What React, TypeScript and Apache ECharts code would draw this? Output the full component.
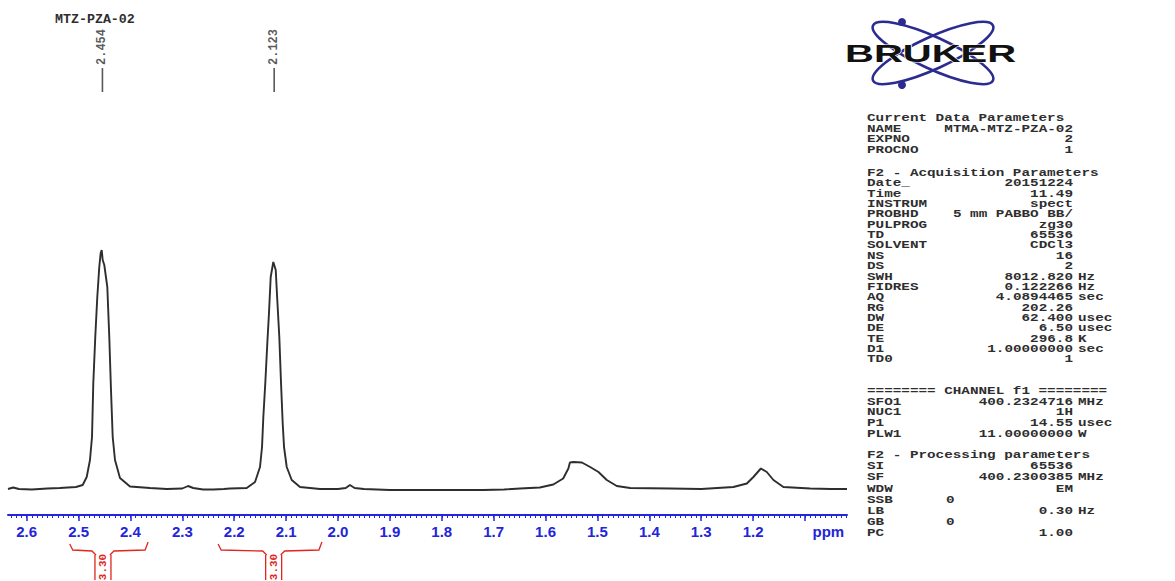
import React, { useEffect, useRef } from "react";
import * as echarts from "echarts";

// ---- spectrum data (chemical shift in ppm, relative intensity) ----
const ppmValues = [
  2.636, 2.626, 2.615, 2.59, 2.56, 2.536, 2.505, 2.492, 2.4843, 2.478, 2.4741, 2.4716, 2.4678, 2.4639,
  2.4601, 2.4574, 2.4554, 2.4535, 2.4504, 2.4446, 2.4408, 2.4375, 2.4342, 2.4298, 2.4202, 2.4009, 2.3623,
  2.33, 2.3, 2.289, 2.279, 2.26, 2.24, 2.22, 2.2081, 2.1759, 2.1599, 2.1503, 2.1464, 2.1439, 2.1401,
  2.1362, 2.133, 2.1297, 2.1247, 2.12, 2.117, 2.1131, 2.1098, 2.1066, 2.104, 2.0988, 2.0892, 2.0732,
  2.0347, 2.0, 1.985, 1.977, 1.968, 1.95, 1.9, 1.8, 1.72, 1.68, 1.649, 1.611, 1.585, 1.566, 1.556,
  1.553, 1.5464, 1.53, 1.514, 1.498, 1.482, 1.4627, 1.437, 1.36, 1.3, 1.238, 1.212, 1.1994, 1.185,
  1.1736, 1.1608, 1.1416, 1.09, 1.05, 1.019,
];
const intensityValues = [
  0, 1.5, 0, -0.5, 0.5, 1, 2, 4, 12, 29, 52, 106, 152, 192,
  222, 236, 239, 229, 224, 202, 152, 99, 52, 29, 11, 2.5, 1,
  0, 0.5, 3, 1, -0.5, -0.5, 0, 0.5, 1, 7, 22, 42, 72, 106,
  146, 176, 212, 227, 219, 189, 152, 106, 66, 42, 22, 9, 2,
  0, 0, 1, 4, 1, 0, -1, -1, -1, -0.5, 0.5, 1.5, 4.5, 10.5, 20.5,
  26.5, 27, 26.5, 22, 17, 9, 3, 1, 0.5, 0, 2, 5.5, 12, 20.5,
  17, 9, 2, 0.5, 0, 0,
];

// ---- peak picking ----
const peakPpm = [2.454, 2.123];
const peakLabels = ["2.454", "2.123"];

// ---- integrals ----
const integralFrom = [2.517, 2.231];
const integralTo = [2.366, 2.031];
const integralCenter = [2.453, 2.124];
const integralLabels = ["3.30", "3.30"];

// ---- axis ----
const axisMin = 1.019;
const axisMax = 2.636;
const majorTickValues = [2.6, 2.5, 2.4, 2.3, 2.2, 2.1, 2.0, 1.9, 1.8, 1.7, 1.6, 1.5, 1.4, 1.3, 1.2, 1.1];
const tickLabelValues = [2.6, 2.5, 2.4, 2.3, 2.2, 2.1, 2.0, 1.9, 1.8, 1.7, 1.6, 1.5, 1.4, 1.3, 1.2, 1.055];
const tickLabelTexts = ["2.6", "2.5", "2.4", "2.3", "2.2", "2.1", "2.0", "1.9", "1.8", "1.7", "1.6", "1.5", "1.4", "1.3", "1.2", "ppm"];

const sampleName = "MTZ-PZA-02";

// ---- parameter panel ----
type Row = [string, string?, string?, string?];
const currentDataRows: Row[] = [
  ["Current Data Parameters"],
  ["NAME", "MTMA-MTZ-PZA-02"],
  ["EXPNO", "2"],
  ["PROCNO", "1"],
];
const acquisitionRows: Row[] = [
  ["F2 - Acquisition Parameters"],
  ["Date_", "20151224"],
  ["Time", "11.49"],
  ["INSTRUM", "spect"],
  ["PROBHD", "5 mm PABBO BB/"],
  ["PULPROG", "zg30"],
  ["TD", "65536"],
  ["SOLVENT", "CDCl3"],
  ["NS", "16"],
  ["DS", "2"],
  ["SWH", "8012.820", "Hz"],
  ["FIDRES", "0.122266", "Hz"],
  ["AQ", "4.0894465", "sec"],
  ["RG", "202.26"],
  ["DW", "62.400", "usec"],
  ["DE", "6.50", "usec"],
  ["TE", "296.8", "K"],
  ["D1", "1.00000000", "sec"],
  ["TD0", "1"],
];
const channelRows: Row[] = [
  ["======== CHANNEL f1 ========"],
  ["SFO1", "400.2324716", "MHz"],
  ["NUC1", "1H"],
  ["P1", "14.55", "usec"],
  ["PLW1", "11.00000000", "W"],
];
const processingRows: Row[] = [
  ["F2 - Processing parameters"],
  ["SI", "65536"],
  ["SF", "400.2300385", "MHz"],
  ["WDW", "EM"],
  ["SSB", "0", "", "left"],
  ["LB", "0.30", "Hz"],
  ["GB", "0", "", "left"],
  ["PC", "1.00"],
];

const BLUE = "#2424d8";
const RED = "#e0261e";
const INK = "#2e2e2e";
const MONO = "'Liberation Mono', 'DejaVu Sans Mono', monospace";

function panelTexts() {
  const groups: { y: number; h: number; rows: Row[] }[] = [
    { y: 118, h: 10.5, rows: currentDataRows },
    { y: 173, h: 10.35, rows: acquisitionRows },
    { y: 391, h: 10.7, rows: channelRows },
    { y: 455, h: 11.2, rows: processingRows },
  ];
  const labelX = 867;
  const valueEnd = 1073;
  const unitX = 1078;
  const leftValueX = 946;
  const sx = 1.3;
  const out: any[] = [];
  const mk = (text: string, x: number, y: number, align: string) => ({
    type: "text",
    x,
    y,
    scaleX: sx,
    silent: true,
    style: {
      text,
      fill: INK,
      font: `bold 11px ${MONO}`,
      textAlign: align,
      align,
      textVerticalAlign: "middle",
      verticalAlign: "middle",
    },
  });
  groups.forEach((g) => {
    g.rows.forEach((r, i) => {
      const y = g.y + i * g.h;
      out.push(mk(r[0], labelX, y, "left"));
      if (r[1]) {
        if (r[3] === "left") out.push(mk(r[1], leftValueX, y, "left"));
        else out.push(mk(r[1], valueEnd, y, "right"));
      }
      if (r[2]) out.push(mk(r[2], unitX, y, "left"));
    });
  });
  return out;
}

function logo() {
  const c = "#2c2c90";
  return [
    {
      type: "ellipse",
      x: 933,
      y: 53,
      rotation: 0.43,
      shape: { cx: 0, cy: 0, rx: 66, ry: 16 },
      style: { fill: "none", stroke: c, lineWidth: 2.6 },
    },
    {
      type: "ellipse",
      x: 933,
      y: 53,
      rotation: -0.43,
      shape: { cx: 0, cy: 0, rx: 66, ry: 16 },
      style: { fill: "none", stroke: c, lineWidth: 2.6 },
    },
    { type: "circle", shape: { cx: 902, cy: 22, r: 4 }, style: { fill: c } },
    { type: "circle", shape: { cx: 902, cy: 85, r: 4 }, style: { fill: c } },
    {
      type: "text",
      x: 845,
      y: 54,
      scaleX: 1.74,
      style: {
        text: "BRUKER",
        fill: "#111",
        font: "bold 23px 'Liberation Sans', Arial, sans-serif",
        textAlign: "left",
        align: "left",
        textVerticalAlign: "middle",
        verticalAlign: "middle",
        stroke: "#fff",
        lineWidth: 1,
      },
    },
  ];
}

export default function App() {
  const ref = useRef<HTMLDivElement>(null);
  useEffect(() => {
    if (!ref.current) return;
    const chart = echarts.init(ref.current, undefined, { renderer: "svg" });
    const minorTicks: number[] = [];
    for (let k = 102; k <= 263; k++) minorTicks.push(k / 100);

    const option: any = {
      animation: false,
      backgroundColor: "#fff",
      grid: { left: 8, right: 328, top: 0, bottom: 66 },
      xAxis: [
        {
          type: "value",
          min: axisMin,
          max: axisMax,
          inverse: true,
          position: "bottom",
          offset: 0,
          axisLine: { show: true, onZero: false, lineStyle: { color: BLUE, width: 2 } },
          axisTick: { show: true, customValues: majorTickValues, length: 6, lineStyle: { color: BLUE, width: 1.5 } },
          axisLabel: {
            show: true,
            customValues: tickLabelValues,
            formatter: (v: number) => {
              const i = tickLabelValues.findIndex((t) => Math.abs(t - v) < 1e-6);
              return i >= 0 ? tickLabelTexts[i] : "";
            },
            color: BLUE,
            fontWeight: "bold",
            fontSize: 15,
            fontFamily: "'Liberation Sans', Arial, sans-serif",
            margin: 9,
          },
          splitLine: { show: false },
        },
        {
          type: "value",
          min: axisMin,
          max: axisMax,
          inverse: true,
          position: "bottom",
          offset: 0,
          axisLine: { show: false, onZero: false },
          axisTick: { show: true, customValues: minorTicks, length: 3, lineStyle: { color: BLUE, width: 1 } },
          axisLabel: { show: false },
          splitLine: { show: false },
        },
      ],
      yAxis: { type: "value", min: -26, max: 489, show: false },
      series: [
        {
          type: "line",
          xAxisIndex: 0,
          data: ppmValues.map((p, i) => [p, intensityValues[i]]),
          showSymbol: false,
          symbol: "none",
          lineStyle: { color: INK, width: 1.9 },
          silent: true,
        },
        {
          type: "scatter",
          xAxisIndex: 0,
          data: peakPpm.map((p) => [p, 409]),
          symbol: "rect",
          symbolSize: [1.6, 24],
          itemStyle: { color: INK },
          label: {
            show: true,
            formatter: (p: any) => peakLabels[p.dataIndex],
            position: "top",
            distance: 3,
            rotate: 90,
            align: "left",
            verticalAlign: "middle",
            fontFamily: MONO,
            fontWeight: "bold",
            fontSize: 12,
            color: INK,
          },
          silent: true,
        },
        {
          type: "custom",
          xAxisIndex: 0,
          coordinateSystem: "cartesian2d",
          data: integralFrom.map((f, i) => [f, integralTo[i], integralCenter[i], 0]),
          encode: { x: [0, 1, 2], y: 3 },
          clip: false,
          silent: true,
          renderItem: (params: any, api: any) => {
            const a = api.coord([api.value(0), 0])[0];
            const b = api.coord([api.value(1), 0])[0];
            const xc = api.coord([api.value(2), 0])[0];
            const x1 = Math.min(a, b);
            const x2 = Math.max(a, b);
            const st = { stroke: RED, lineWidth: 1.3, fill: "none" };
            return {
              type: "group",
              children: [
                { type: "polyline", shape: { points: [[x1, 544], [x1 + 3, 550], [xc - 11, 551], [xc - 7, 555]] }, style: st },
                { type: "polyline", shape: { points: [[x2, 542], [x2 - 3, 550], [xc + 11, 551], [xc + 7, 555]] }, style: st },
                { type: "line", shape: { x1: xc - 8, y1: 555, x2: xc - 8, y2: 580 }, style: st },
                { type: "line", shape: { x1: xc + 8, y1: 555, x2: xc + 8, y2: 580 }, style: st },
                {
                  type: "text",
                  x: xc,
                  y: 567,
                  rotation: Math.PI / 2,
                  style: {
                    text: integralLabels[params.dataIndex],
                    fill: RED,
                    font: `bold 11px ${MONO}`,
                    textAlign: "center",
                    align: "center",
                    textVerticalAlign: "middle",
                    verticalAlign: "middle",
                  },
                },
              ],
            };
          },
        },
      ],
      graphic: [
        {
          type: "text",
          x: 55,
          y: 20,
          scaleX: 1.11,
          style: {
            text: sampleName,
            fill: INK,
            font: `bold 12px ${MONO}`,
            textAlign: "left",
            align: "left",
            textVerticalAlign: "middle",
            verticalAlign: "middle",
          },
        },
        ...logo(),
        ...panelTexts(),
      ],
    };
    chart.setOption(option);
    return () => chart.dispose();
  }, []);
  return (
    <div
      ref={ref}
      style={{ position: "absolute", left: 0, top: 0, width: 1175, height: 581, background: "#fff" }}
    />
  );
}
